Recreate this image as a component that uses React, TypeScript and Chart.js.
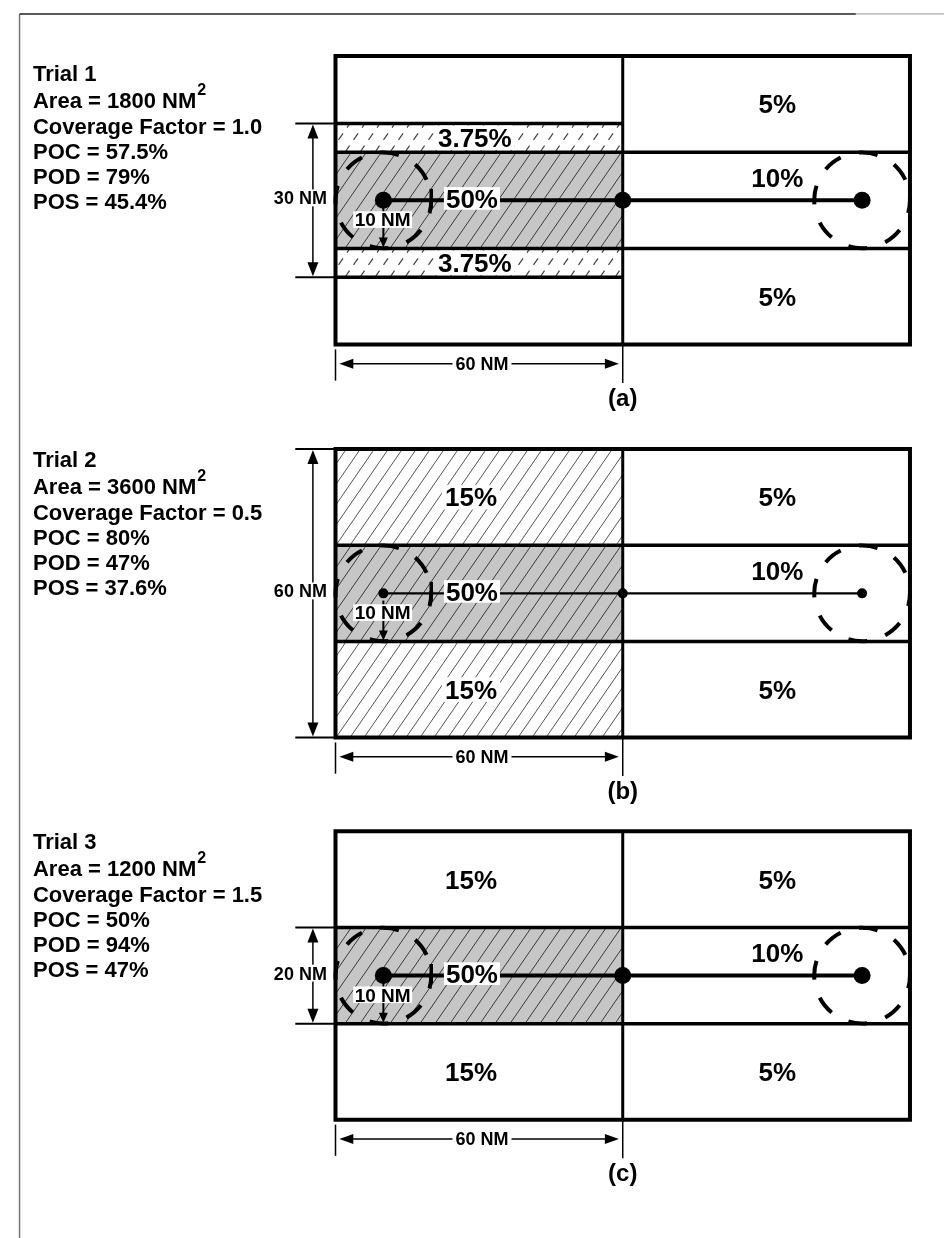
import React, { useEffect, useRef } from "react";
import { Chart, registerables } from "chart.js";

Chart.register(...registerables);

// ---------------- data ----------------
const TRIALS = ["Trial 1", "Trial 2", "Trial 3"];
const AREA_NM2 = [1800, 3600, 1200];
const COVERAGE_FACTOR = ["1.0", "0.5", "1.5"];
const POC = ["57.5%", "80%", "50%"];
const POD = ["79%", "47%", "94%"];
const POS = ["45.4%", "37.6%", "47%"];
const SEARCH_WIDTH_LABEL = ["30 NM", "60 NM", "20 NM"];
const SEARCH_HALF_WIDTH_NM = [16, 30, 10]; // as drawn in the figure
const PANEL_TAGS = ["(a)", "(b)", "(c)"];
const LEFT_OUTER_PROB = ["", "15%", "15%"];
const STRIP_PROB = ["3.75%", "", ""];
const CORE_PROB = ["50%", "50%", "50%"];
const RIGHT_OUTER_PROB = ["5%", "5%", "5%"];
const RIGHT_CORE_PROB = ["10%", "10%", "10%"];
const BOX_WIDTH_NM = 120;
const COLUMN_SPLIT_NM = 60;
const BOX_HALF_HEIGHT_NM = 30;
const CORE_HALF_NM = 10;
const TRACK_POINTS_NM = [10, 60, 110];
const DATUM_RADIUS_NM = 10;
const BASE_LABEL = "60 NM";
const RADIUS_LABEL = "10 NM";

// ---------------- layout / style ----------------
const W = 944;
const H = 1238;
const PX_PER_NM = 4.875;
const BOX_LEFT_PX = 333;
const X_MIN = -BOX_LEFT_PX / PX_PER_NM;
const X_MAX = X_MIN + W / PX_PER_NM;
const Y_MAX = H / PX_PER_NM;
const PANEL_CENTER = [39.9, 121.64, 201.13];
const INFO_TOP = [-24.9, -26.3, -26.4];
const INFO_LINE_OFFSETS_PX = [0, 27, 53, 78, 103, 128];
const HATCHED_OUTER = [false, true, false];
const TRACK_WIDTH = [4, 2.2, 4];
const DOT_RADIUS = [8.5, 5, 8.5];
const FONT = "'Liberation Sans', Arial, Helvetica, sans-serif";
const CORE_FILL = "#c6c6c6";

function hatch(
  ctx: CanvasRenderingContext2D,
  x0: number, y0: number, x1: number, y1: number,
  spacing: number, slope: number, color: string, width: number, dash: number[] = []
) {
  ctx.save();
  ctx.beginPath();
  ctx.rect(x0, y0, x1 - x0, y1 - y0);
  ctx.clip();
  ctx.beginPath();
  ctx.strokeStyle = color;
  ctx.lineWidth = width;
  ctx.setLineDash(dash);
  const run = (y1 - y0) / slope;
  const start = Math.floor((x0 - run) / spacing) * spacing;
  for (let b = start; b <= x1 + spacing; b += spacing) {
    ctx.moveTo(b, y1);
    ctx.lineTo(b + run, y0);
  }
  ctx.stroke();
  ctx.restore();
}

function line(ctx: CanvasRenderingContext2D, x0: number, y0: number, x1: number, y1: number, w: number, color = "#000") {
  ctx.beginPath();
  ctx.strokeStyle = color;
  ctx.lineWidth = w;
  ctx.setLineDash([]);
  ctx.moveTo(x0, y0);
  ctx.lineTo(x1, y1);
  ctx.stroke();
}

function arrowHead(ctx: CanvasRenderingContext2D, tx: number, ty: number, dx: number, dy: number, len: number, half: number) {
  const bx = tx - dx * len;
  const by = ty - dy * len;
  const px = -dy, py = dx;
  ctx.beginPath();
  ctx.fillStyle = "#000";
  ctx.moveTo(tx, ty);
  ctx.lineTo(bx + px * half, by + py * half);
  ctx.lineTo(bx - px * half, by - py * half);
  ctx.closePath();
  ctx.fill();
}

function label(
  ctx: CanvasRenderingContext2D, text: string, x: number, cy: number, size: number,
  align: "center" | "left" | "right" = "center", bg = false, pad = 3
) {
  if (!text) return;
  ctx.font = `bold ${size}px ${FONT}`;
  const w = ctx.measureText(text).width;
  const capH = size * 0.716;
  const left = align === "center" ? x - w / 2 : align === "right" ? x - w : x;
  if (bg) {
    ctx.fillStyle = "#fff";
    ctx.fillRect(left - pad, cy - capH / 2 - pad, w + 2 * pad, capH + 2 * pad);
  }
  ctx.fillStyle = "#000";
  ctx.textAlign = "left";
  ctx.textBaseline = "alphabetic";
  ctx.fillText(text, left, cy + capH / 2);
}

const diagramPlugin = {
  id: "sarDiagram",
  beforeDatasetsDraw(chart: any) {
    const { ctx } = chart;
    const xs = chart.scales.x;
    const ys = chart.scales.y;
    const X = (v: number) => xs.getPixelForValue(v);
    ctx.save();
    ctx.fillStyle = "#fff";
    ctx.fillRect(0, 0, chart.width, chart.height);

    // page frame
    const fx = X(-66.0);
    const fy = ys.getPixelForValue(1.13);
    line(ctx, fx, fy, fx, chart.height, 1.5, "#777");
    line(ctx, fx, fy, X(108.7), fy, 1.5, "#222");
    line(ctx, X(108.7), fy, chart.width, fy, 1.2, "#aaa");

    for (let p = 0; p < 3; p++) {
      const Y = (v: number) => ys.getPixelForValue(PANEL_CENTER[p] + v);
      const xl = X(0), xm = X(COLUMN_SPLIT_NM), xr = X(BOX_WIDTH_NM);
      const yt = Y(-BOX_HALF_HEIGHT_NM), yb = Y(BOX_HALF_HEIGHT_NM);
      const yc1 = Y(-CORE_HALF_NM), yc2 = Y(CORE_HALF_NM);

      if (HATCHED_OUTER[p]) {
        hatch(ctx, xl, yt, xm, yc1, 14, 1.45, "#555", 1);
        hatch(ctx, xl, yc2, xm, yb, 14, 1.45, "#555", 1);
      }
      if (STRIP_PROB[p]) {
        const s1 = Y(-SEARCH_HALF_WIDTH_NM[p]);
        const s2 = Y(SEARCH_HALF_WIDTH_NM[p]);
        hatch(ctx, xl, s1, xm, yc1, 15, 1.45, "#444", 1.2, [8, 7]);
        hatch(ctx, xl, yc2, xm, s2, 15, 1.45, "#444", 1.2, [8, 7]);
      }
      // core (stippled + hatched)
      ctx.fillStyle = CORE_FILL;
      ctx.fillRect(xl, yc1, xm - xl, yc2 - yc1);
      hatch(ctx, xl, yc1, xm, yc2, 15, 1.45, "#3a3a3a", 1);

      // grid lines
      line(ctx, xl, yc1, xr, yc1, 3.5);
      line(ctx, xl, yc2, xr, yc2, 3.5);
      if (STRIP_PROB[p]) {
        const s1 = Y(-SEARCH_HALF_WIDTH_NM[p]);
        const s2 = Y(SEARCH_HALF_WIDTH_NM[p]);
        line(ctx, xl, s1, xm, s1, 3.5);
        line(ctx, xl, s2, xm, s2, 3.5);
      }
      line(ctx, xm, yt, xm, yb, 3);
      ctx.beginPath();
      ctx.strokeStyle = "#000";
      ctx.lineWidth = 4;
      ctx.setLineDash([]);
      ctx.rect(xl, yt, xr - xl, yb - yt);
      ctx.stroke();

      // datum circles
      const r = X(DATUM_RADIUS_NM) - X(0);
      for (const cxNM of [TRACK_POINTS_NM[0], TRACK_POINTS_NM[2]]) {
        ctx.beginPath();
        ctx.strokeStyle = "#000";
        ctx.lineWidth = 4;
        ctx.setLineDash([19, 19]);
        ctx.lineDashOffset = 6;
        ctx.arc(X(cxNM), Y(0), r, 0, Math.PI * 2);
        ctx.stroke();
      }
      ctx.setLineDash([]);
      ctx.lineDashOffset = 0;
      // radius tick
      const tx = X(TRACK_POINTS_NM[0] + DATUM_RADIUS_NM);
      line(ctx, tx, Y(-2.4), tx, Y(1.6), 3.5);
    }
    ctx.restore();
  },
  afterDatasetsDraw(chart: any) {
    const { ctx } = chart;
    const xs = chart.scales.x;
    const ys = chart.scales.y;
    const X = (v: number) => xs.getPixelForValue(v);
    ctx.save();
    for (let p = 0; p < 3; p++) {
      const Y = (v: number) => ys.getPixelForValue(PANEL_CENTER[p] + v);

      // radius arrow (down)
      const ax = X(TRACK_POINTS_NM[0]);
      line(ctx, ax, Y(1.5), ax, Y(CORE_HALF_NM) - 8, 2);
      arrowHead(ctx, ax, Y(CORE_HALF_NM) - 1, 0, 1, 10, 4.5);
      label(ctx, RADIUS_LABEL, X(9.85), Y(4.0), 19, "center", true, 1.5);

      // cell labels
      label(ctx, CORE_PROB[p], X(28.5), Y(-0.4), 26, "center", true, 2);
      label(ctx, RIGHT_CORE_PROB[p], X(92.3), Y(-4.8), 26);
      label(ctx, RIGHT_OUTER_PROB[p], X(92.3), Y(-20), 26);
      label(ctx, RIGHT_OUTER_PROB[p], X(92.3), Y(20), 26);
      label(ctx, LEFT_OUTER_PROB[p], X(28.3), Y(-20), 26, "center", HATCHED_OUTER[p], 3);
      label(ctx, LEFT_OUTER_PROB[p], X(28.3), Y(20), 26, "center", HATCHED_OUTER[p], 3);
      if (STRIP_PROB[p]) {
        const mid = (SEARCH_HALF_WIDTH_NM[p] + CORE_HALF_NM) / 2;
        label(ctx, STRIP_PROB[p], X(29.1), Y(-mid), 26, "center", true, 3);
        label(ctx, STRIP_PROB[p], X(29.1), Y(mid), 26, "center", true, 3);
      }

      // vertical dimension (search width)
      const hw = SEARCH_HALF_WIDTH_NM[p];
      const vx = X(-4.72);
      line(ctx, X(-8.4), Y(-hw), X(0), Y(-hw), 2);
      line(ctx, X(-8.4), Y(hw), X(0), Y(hw), 2);
      line(ctx, vx, Y(-hw) + 10, vx, Y(hw) - 10, 1.5);
      arrowHead(ctx, vx, Y(-hw) + 1, 0, -1, 14, 5.5);
      arrowHead(ctx, vx, Y(hw) - 1, 0, 1, 14, 5.5);
      label(ctx, SEARCH_WIDTH_LABEL[p], X(-1.8), Y(-0.5), 18, "right", true, 2);

      // horizontal dimension (60 NM)
      const hy = Y(34);
      line(ctx, X(0), Y(31), X(0), Y(37.5), 1.5);
      line(ctx, X(COLUMN_SPLIT_NM), Y(30), X(COLUMN_SPLIT_NM), Y(38), 1.5);
      line(ctx, X(0.8) + 10, hy, X(59.2) - 10, hy, 1.5);
      arrowHead(ctx, X(0.8), hy, -1, 0, 14, 5);
      arrowHead(ctx, X(59.2), hy, 1, 0, 14, 5);
      label(ctx, BASE_LABEL, X(30.6), hy, 18, "center", true, 3);

      // panel tag
      label(ctx, PANEL_TAGS[p], X(COLUMN_SPLIT_NM), Y(41), 24);

      // info block
      const ix = X(-63.2);
      const base = Y(INFO_TOP[p]);
      const lines = [
        TRIALS[p],
        `Area = ${AREA_NM2[p]} NM`,
        `Coverage Factor = ${COVERAGE_FACTOR[p]}`,
        `POC = ${POC[p]}`,
        `POD = ${POD[p]}`,
        `POS = ${POS[p]}`,
      ];
      ctx.fillStyle = "#000";
      ctx.textAlign = "left";
      ctx.textBaseline = "alphabetic";
      lines.forEach((t, i) => {
        ctx.font = `bold 22px ${FONT}`;
        const by = base + INFO_LINE_OFFSETS_PX[i];
        ctx.fillText(t, ix, by);
        if (i === 1) {
          const w = ctx.measureText(t).width;
          ctx.font = `bold 16px ${FONT}`;
          ctx.fillText("2", ix + w + 1, by - 13);
        }
      });
    }
    ctx.restore();
  },
};

export default function App() {
  const ref = useRef<HTMLCanvasElement>(null);
  useEffect(() => {
    if (!ref.current) return;
    const datasets = PANEL_CENTER.map((c, p) => ({
      label: TRIALS[p],
      data: TRACK_POINTS_NM.map((x) => ({ x, y: c })),
      showLine: true,
      borderColor: "#000",
      backgroundColor: "#000",
      borderWidth: TRACK_WIDTH[p],
      pointRadius: DOT_RADIUS[p],
      pointBackgroundColor: "#000",
      pointBorderWidth: 0,
    }));
    const chart = new Chart(ref.current, {
      type: "scatter",
      data: { datasets },
      options: {
        animation: false,
        responsive: false,
        events: [],
        layout: { padding: 0 },
        plugins: { legend: { display: false }, tooltip: { enabled: false } },
        scales: {
          x: { type: "linear", min: X_MIN, max: X_MAX, display: false },
          y: { type: "linear", min: 0, max: Y_MAX, reverse: true, display: false },
        },
      },
      plugins: [diagramPlugin],
    } as any);
    return () => chart.destroy();
  }, []);
  return (
    <div style={{ position: "absolute", left: 0, top: 0, width: W, height: H, background: "#fff" }}>
      <canvas ref={ref} width={W} height={H} style={{ display: "block" }} />
    </div>
  );
}
